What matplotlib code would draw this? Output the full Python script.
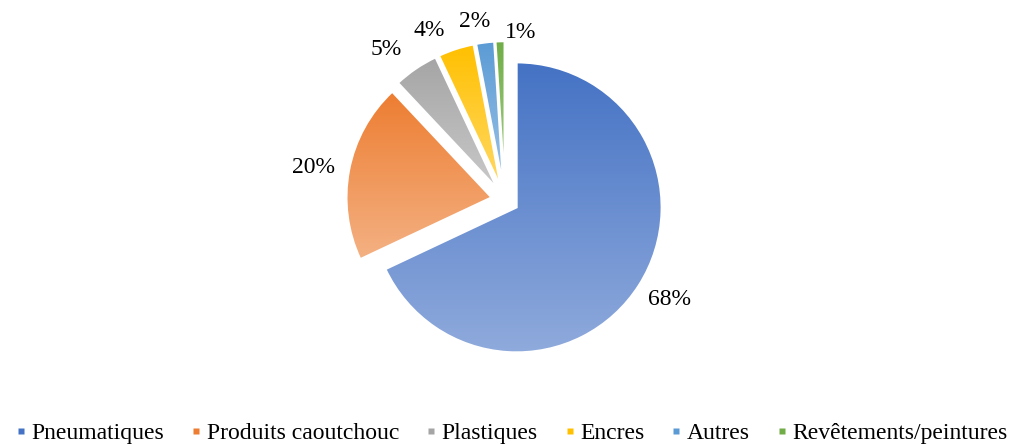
import numpy as np
import matplotlib
matplotlib.use("Agg")
import matplotlib.pyplot as plt
from matplotlib.colors import LinearSegmentedColormap
from matplotlib.lines import Line2D

plt.rcParams['font.family'] = ['Liberation Serif', 'DejaVu Serif']

# data
categories = ["Pneumatiques", "Produits caoutchouc", "Plastiques", "Encres", "Autres",
              "Revêtements/peintures"]
values = [68, 20, 5, 4, 2, 1]
pct_labels = ["68%", "20%", "5%", "4%", "2%", "1%"]

# gradient: top colour -> bottom colour per slice
top_colors = ["#4472C4", "#ED7D31", "#A5A5A5", "#FFC000", "#5B9BD5", "#70AD47"]
bottom_colors = ["#8FAADC", "#F4B183", "#C9C9C9", "#FFD966", "#9DC3E6", "#A9D18E"]

explode = [0.095] * 6
# label placement (distance from centre, angle nudge in degrees) to mimic Excel
label_dist = [1.33, 1.34, 1.32, 1.28, 1.25, 1.16]
label_nudge = [1.2, 1.3, 4.0, 6.0, 2.6, -7.2]

W, H = 1011, 445
fig = plt.figure(figsize=(W / 100, H / 100), dpi=100)
cx, cy, r = 505, 245, 145
lim = 1.6
ax = fig.add_axes([(cx - r * lim) / W, (cy - r * lim) / H, 2 * r * lim / W, 2 * r * lim / H])

wedges, _ = ax.pie(values, startangle=90, counterclock=False, explode=explode,
                   wedgeprops=dict(linewidth=1.5, edgecolor='white'))
ax.set_xlim(-lim, lim)
ax.set_ylim(-lim, lim)
ax.set_aspect('equal')
ax.axis('off')

for w, c1, c2 in zip(wedges, top_colors, bottom_colors):
    w.set_facecolor('none')
    w.set_zorder(2)
    ext = w.get_path().get_extents()
    cmap = LinearSegmentedColormap.from_list('g', [c2, c1])
    grad = np.linspace(0, 1, 256).reshape(-1, 1)
    im = ax.imshow(grad, cmap=cmap, origin='lower', aspect='auto',
                   extent=[ext.x0, ext.x1, ext.y0, ext.y1], zorder=1)
    im.set_clip_path(w)

ax.set_xlim(-lim, lim)
ax.set_ylim(-lim, lim)

for w, lab, d, nud in zip(wedges, pct_labels, label_dist, label_nudge):
    mid = np.deg2rad((w.theta1 + w.theta2) / 2 + nud)
    ax.text(d * np.cos(mid), d * np.sin(mid), lab, ha='center', va='center',
            fontsize=17, color='#000000')

handles = [Line2D([], [], marker='s', linestyle='none', markersize=4.5,
                  markerfacecolor=c, markeredgecolor='none') for c in top_colors]
fig.legend(handles, categories, loc='lower center', bbox_to_anchor=(0.507, -0.045),
           ncol=6, frameon=False, fontsize=17, handlelength=0.3,
           handletextpad=0.3, columnspacing=1.2)

fig.savefig("out.png", dpi=100)
